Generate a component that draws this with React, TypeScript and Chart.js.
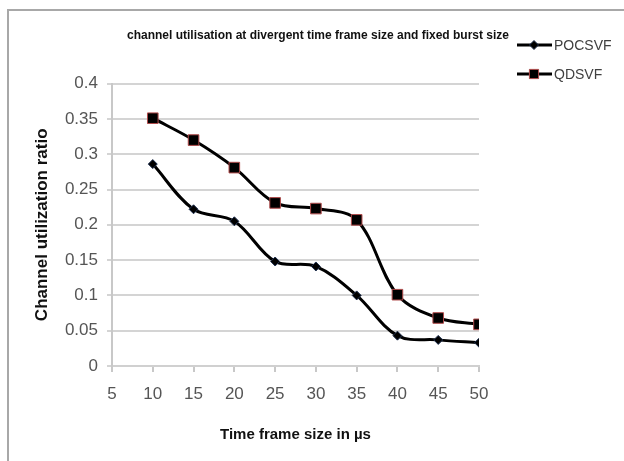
import React, { useEffect, useRef } from "react";
import { Chart, registerables } from "chart.js";

Chart.register(...registerables);

const chartTitle = "channel utilisation at divergent time frame size and fixed burst size";
const xAxisTitle = "Time frame size in µs";
const yAxisTitle = "Channel utilization ratio";

const frameSizes = [10, 15, 20, 25, 30, 35, 40, 45, 50];
const pocsvfValues = [0.286, 0.222, 0.205, 0.148, 0.141, 0.1, 0.043, 0.037, 0.033];
const qdsvfValues = [0.351, 0.32, 0.281, 0.231, 0.223, 0.207, 0.101, 0.068, 0.059];

const xTickValues = [5, 10, 15, 20, 25, 30, 35, 40, 45, 50];
const yTickValues = [0, 0.05, 0.1, 0.15, 0.2, 0.25, 0.3, 0.35, 0.4];
const yTickLabels = ["0", "0.05", "0.1", "0.15", "0.2", "0.25", "0.3", "0.35", "0.4"];

const seriesNames = ["POCSVF", "QDSVF"];

const FONT = "'Liberation Sans', Arial, sans-serif";

export default function App() {
  const canvasRef = useRef<HTMLCanvasElement | null>(null);

  useEffect(() => {
    const canvas = canvasRef.current;
    if (!canvas) return;

    const titleLegendPlugin = {
      id: "titleLegend",
      afterDraw(chart: any) {
        const ctx = chart.ctx;
        ctx.save();
        // title
        ctx.fillStyle = "#111111";
        ctx.font = `bold 12px ${FONT}`;
        ctx.textAlign = "center";
        ctx.textBaseline = "middle";
        ctx.fillText(chartTitle, 318, 36);

        // legend
        chart.data.datasets.forEach((ds: any, i: number) => {
          const y = i === 0 ? 45 : 74;
          ctx.strokeStyle = "#000000";
          ctx.lineWidth = 3;
          ctx.beginPath();
          ctx.moveTo(517, y);
          ctx.lineTo(552, y);
          ctx.stroke();
          ctx.fillStyle = ds.pointBackgroundColor;
          ctx.strokeStyle = ds.pointBorderColor;
          ctx.lineWidth = 1;
          const r = ds.pointStyle === "rect" ? 6.5 : 4.5;
          ctx.beginPath();
          if (ds.pointStyle === "rect") {
            const s = r * Math.SQRT1_2;
            ctx.rect(534 - s, y - s, 2 * s, 2 * s);
          } else {
            ctx.moveTo(534, y - r);
            ctx.lineTo(534 + r, y);
            ctx.lineTo(534, y + r);
            ctx.lineTo(534 - r, y);
            ctx.closePath();
          }
          ctx.fill();
          ctx.stroke();
          ctx.fillStyle = "#404040";
          ctx.font = `14px ${FONT}`;
          ctx.textAlign = "left";
          ctx.textBaseline = "middle";
          ctx.fillText(ds.label, 554, y + 1);
        });
        ctx.restore();
      },
    };

    const chart = new Chart(canvas, {
      type: "line",
      data: {
        datasets: [
          {
            label: seriesNames[0],
            data: frameSizes.map((x, i) => ({ x, y: pocsvfValues[i] })),
            borderColor: "#000000",
            borderWidth: 3,
            tension: 0.35,
            pointStyle: "rectRot",
            pointRadius: 4.5,
            pointBackgroundColor: "#000000",
            pointBorderColor: "#1f3050",
            pointBorderWidth: 1,
          },
          {
            label: seriesNames[1],
            data: frameSizes.map((x, i) => ({ x, y: qdsvfValues[i] })),
            borderColor: "#000000",
            borderWidth: 3,
            tension: 0.35,
            pointStyle: "rect",
            pointRadius: 7.5,
            pointBackgroundColor: "#000000",
            pointBorderColor: "#b04a4a",
            pointBorderWidth: 1,
          },
        ],
      },
      options: {
        animation: false,
        responsive: false,
        events: [],
        layout: { padding: { left: 0, right: 145, top: 83.6, bottom: 0 } },
        plugins: {
          legend: { display: false },
          title: { display: false },
          tooltip: { enabled: false },
        },
        scales: {
          x: {
            type: "linear",
            min: 5,
            max: 50,
            afterFit(scale: any) {
              scale.height = 95;
            },
            afterBuildTicks(scale: any) {
              scale.ticks = xTickValues.map((v) => ({ value: v }));
            },
            ticks: {
              color: "#555555",
              font: { family: FONT, size: 17 },
              padding: 12,
              maxRotation: 0,
              callback: (v: any) => String(v),
            },
            grid: {
              display: true,
              drawOnChartArea: false,
              drawTicks: true,
              tickLength: 6,
              color: "#c8c8c8",
              lineWidth: 2,
            },
            border: { display: true, color: "#d0d0d0", width: 2 },
            title: {
              display: true,
              text: xAxisTitle,
              color: "#111111",
              font: { family: FONT, size: 15, weight: "bold" },
              padding: { top: 0, bottom: 17 },
            },
          },
          y: {
            type: "linear",
            min: 0,
            max: 0.4,
            afterFit(scale: any) {
              scale.width = 112;
            },
            afterBuildTicks(scale: any) {
              scale.ticks = yTickValues.map((v) => ({ value: v }));
            },
            ticks: {
              color: "#555555",
              font: { family: FONT, size: 17 },
              padding: 9,
              callback: (v: any) => {
                const idx = yTickValues.findIndex((t) => Math.abs(t - v) < 1e-9);
                return idx >= 0 ? yTickLabels[idx] : "";
              },
            },
            grid: {
              display: true,
              drawOnChartArea: true,
              drawTicks: true,
              tickLength: 5,
              color: "#d4d4d4",
              lineWidth: 2,
            },
            border: { display: true, color: "#c8c8c8", width: 2 },
            title: {
              display: true,
              text: yAxisTitle,
              color: "#111111",
              font: { family: FONT, size: 17, weight: "bold" },
              padding: { top: 32, bottom: 0 },
            },
          },
        },
      },
      plugins: [titleLegendPlugin],
    } as any);

    return () => chart.destroy();
  }, []);

  return (
    <div
      style={{
        position: "fixed",
        left: 0,
        top: 0,
        width: 624,
        height: 461,
        overflow: "hidden",
        background: "#ffffff",
      }}
    >
      <div
        style={{
          position: "absolute",
          left: 7,
          top: 9,
          width: 1000,
          height: 1000,
          border: "2px solid #a8a8a8",
          boxSizing: "border-box",
        }}
      />
      <canvas
        ref={canvasRef}
        width={624}
        height={461}
        style={{ position: "absolute", left: 0, top: 0, width: 624, height: 461 }}
      />
    </div>
  );
}
